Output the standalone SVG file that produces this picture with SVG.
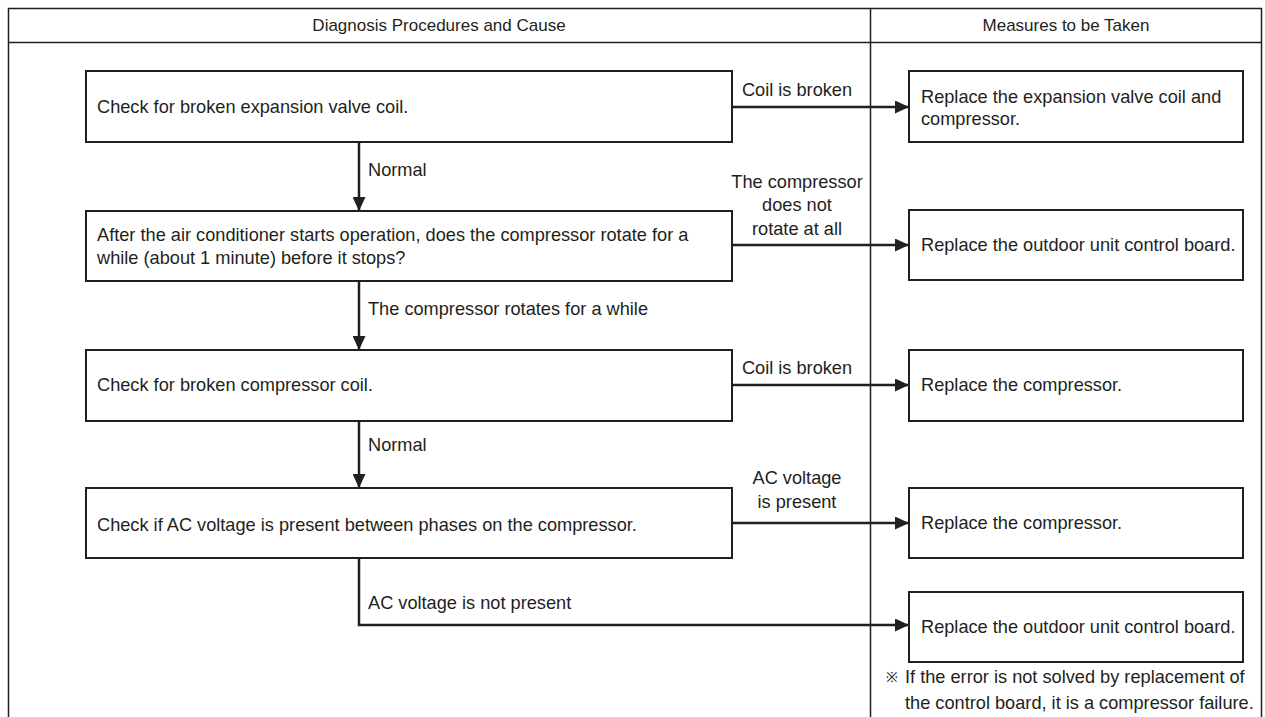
<svg xmlns="http://www.w3.org/2000/svg" width="1265" height="717" viewBox="0 0 1265 717">
<defs>
<style>
text{font-family:"Liberation Sans",Arial,sans-serif;font-size:18.2px;fill:#231f20}
.h{font-size:17px}
.c{text-anchor:middle}
.box{fill:#fff;stroke:#231f20;stroke-width:2}
.frame{fill:none;stroke:#231f20;stroke-width:1.5}
.con{fill:none;stroke:#231f20;stroke-width:2.5}
</style>
<marker id="ah" viewBox="0 0 14 13" refX="14" refY="6.5" markerWidth="14" markerHeight="13" markerUnits="userSpaceOnUse" orient="auto">
<path d="M0,0 L14,6.5 L0,13 Z" fill="#231f20"/>
</marker>
</defs>
<rect width="1265" height="717" fill="#fff"/>
<g id="frame">
<path class="frame" d="M8.5,717 V8.5 H1261.5 V717 M8.5,42.5 H1261.5 M870.5,8.5 V717"/>
<text class="c h" x="439" y="31">Diagnosis Procedures and Cause</text>
<text class="c h" x="1066" y="31">Measures to be Taken</text>
</g>
<g id="connectors">
<path class="con" d="M732,107 H909" marker-end="url(#ah)"/>
<path class="con" d="M359,142 V211" marker-end="url(#ah)"/>
<path class="con" d="M732,245 H909" marker-end="url(#ah)"/>
<path class="con" d="M359,281 V350" marker-end="url(#ah)"/>
<path class="con" d="M732,385 H909" marker-end="url(#ah)"/>
<path class="con" d="M359,421 V488" marker-end="url(#ah)"/>
<path class="con" d="M732,523 H909" marker-end="url(#ah)"/>
<path class="con" d="M359,558 V625 H909" marker-end="url(#ah)"/>
<text class="c" x="797" y="96">Coil is broken</text>
<text x="368" y="176">Normal</text>
<text class="c" x="797" y="188">The compressor</text>
<text class="c" x="797" y="211">does not</text>
<text class="c" x="797" y="235">rotate at all</text>
<text x="368" y="315">The compressor rotates for a while</text>
<text class="c" x="797" y="374">Coil is broken</text>
<text x="368" y="451">Normal</text>
<text class="c" x="797" y="484">AC voltage</text>
<text class="c" x="797" y="508">is present</text>
<text x="368" y="609">AC voltage is not present</text>
</g>
<g id="n1">
<rect class="box" x="86" y="71" width="646" height="71"/>
<text x="97" y="113">Check for broken expansion valve coil.</text>
</g>
<g id="n2">
<rect class="box" x="86" y="211" width="646" height="70"/>
<text x="97" y="241">After the air conditioner starts operation, does the compressor rotate for a</text>
<text x="97" y="264">while (about 1 minute) before it stops?</text>
</g>
<g id="n3">
<rect class="box" x="86" y="350" width="646" height="71"/>
<text x="97" y="391">Check for broken compressor coil.</text>
</g>
<g id="n4">
<rect class="box" x="86" y="488" width="646" height="70"/>
<text x="97" y="531">Check if AC voltage is present between phases on the compressor.</text>
</g>
<g id="m1">
<rect class="box" x="909" y="71" width="334" height="71"/>
<text x="921" y="103">Replace the expansion valve coil and</text>
<text x="921" y="125">compressor.</text>
</g>
<g id="m2">
<rect class="box" x="909" y="210" width="334" height="70"/>
<text x="921" y="251">Replace the outdoor unit control board.</text>
</g>
<g id="m3">
<rect class="box" x="909" y="350" width="334" height="71"/>
<text x="921" y="391">Replace the compressor.</text>
</g>
<g id="m4">
<rect class="box" x="909" y="488" width="334" height="70"/>
<text x="921" y="529">Replace the compressor.</text>
</g>
<g id="m5">
<rect class="box" x="909" y="592" width="334" height="70"/>
<text x="921" y="633">Replace the outdoor unit control board.</text>
</g>
<g id="note">
<text x="886" y="682" style="font-size:14px">※</text>
<text x="905" y="683">If the error is not solved by replacement of</text>
<text x="905" y="709">the control board, it is a compressor failure.</text>
</g>
</svg>
